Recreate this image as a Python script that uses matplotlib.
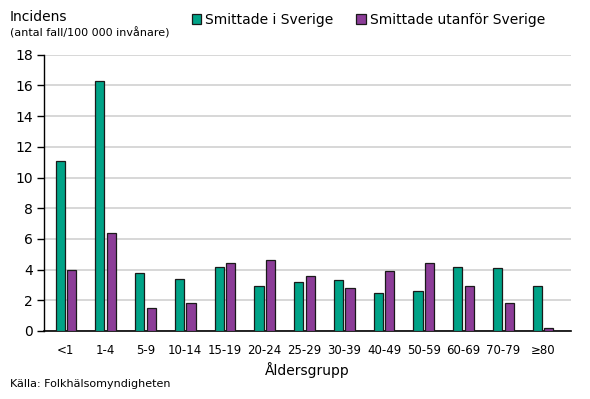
import matplotlib.pyplot as plt
import numpy as np
from matplotlib.patches import Patch

plt.rcParams['font.family'] = ['DejaVu Sans']

groups = ['<1', '1-4', '5-9', '10-14', '15-19', '20-24', '25-29',
          '30-39', '40-49', '50-59', '60-69', '70-79', '≥80']
inside = [11.1, 16.3, 3.8, 3.4, 4.2, 2.9, 3.2, 3.3, 2.5, 2.6, 4.2, 4.1, 2.9]
outside = [4.0, 6.4, 1.5, 1.8, 4.4, 4.6, 3.6, 2.8, 3.9, 4.4, 2.9, 1.8, 0.2]
series_names = ['Smittade i Sverige', 'Smittade utanför Sverige']
yticks = [0, 2, 4, 6, 8, 10, 12, 14, 16, 18]

GREEN = '#00a387'
PURPLE = '#8c3d98'

fig = plt.figure(figsize=(5.9, 3.99), dpi=100)
ax = fig.add_axes([44 / 590, 1 - 331 / 399, 527 / 590, (331 - 54.7) / 399])

x = np.arange(len(groups))
w = 0.23
ax.bar(x - 0.145, inside, width=w, color=GREEN, edgecolor='#1a1a1a', linewidth=0.9, zorder=3)
ax.bar(x + 0.145, outside, width=w, color=PURPLE, edgecolor='#1a1a1a', linewidth=0.9, zorder=3)

ax.set_xlim(-0.55, len(groups) - 0.3)
ax.set_ylim(0, 18)
ax.set_yticks(yticks)
ax.yaxis.grid(True, color='#d4d4d4', linewidth=1.3, zorder=0)
ax.set_axisbelow(True)
for s in ['top', 'right']:
    ax.spines[s].set_visible(False)
ax.spines['left'].set_linewidth(1.0)
ax.spines['bottom'].set_linewidth(1.2)
ax.tick_params(axis='y', length=5, width=1.0, labelsize=10, pad=3)
ax.tick_params(axis='x', length=0, labelsize=8.5, pad=9)
ax.set_xticks(x)
ax.set_xticklabels(groups)
ax.set_xlabel('Åldersgrupp', fontsize=10, labelpad=4)

fig.text(10 / 590, 1 - 17 / 399, 'Incidens', fontsize=10, va='center', ha='left')
fig.text(10 / 590, 1 - 33 / 399, '(antal fall/100 000 invånare)', fontsize=8, va='center', ha='left')
fig.text(10 / 590, 1 - 384 / 399, 'Källa: Folkhälsomyndigheten', fontsize=8, va='center', ha='left')

handles = [Patch(facecolor=GREEN, edgecolor='#1a1a1a', linewidth=0.9),
           Patch(facecolor=PURPLE, edgecolor='#1a1a1a', linewidth=0.9)]
fig.legend(handles, series_names, loc='center left', bbox_to_anchor=(186 / 590, 1 - 20 / 399),
           ncol=2, frameon=False, fontsize=10, handlelength=0.7, handleheight=0.7,
           handletextpad=0.3, columnspacing=1.6, borderaxespad=0)

fig.savefig('out.png', dpi=100)
